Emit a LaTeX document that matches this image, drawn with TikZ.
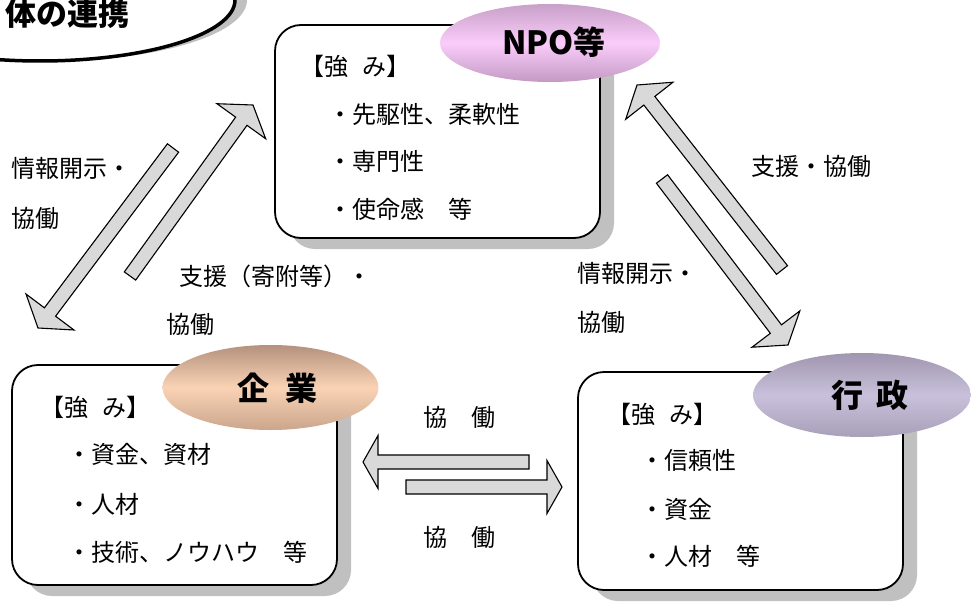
\documentclass[tikz,border=0pt]{standalone}
\usepackage{fontspec}
\setmainfont{Noto Sans CJK JP}
\usetikzlibrary{calc,shapes.geometric,shadows}
\definecolor{shadowgray}{HTML}{C0C0C0}
\definecolor{arrowgray}{HTML}{D9D9D9}
\definecolor{npoA}{HTML}{C8A0C8}
\definecolor{npoB}{HTML}{FACCFA}
\definecolor{npoC}{HTML}{C49AC4}
\definecolor{kigA}{HTML}{B4917D}
\definecolor{kigB}{HTML}{FAD3B5}
\definecolor{kigC}{HTML}{CBA68C}
\definecolor{gyoA}{HTML}{A096AF}
\definecolor{gyoB}{HTML}{C9C1DB}
\definecolor{gyoC}{HTML}{A89FB9}
\newcommand{\blockarr}[4]{%
  \path ($(#2)!#3!(#1)$) coordinate (ab);
  \draw[blockarrow] ($(#1)!7pt!90:(#2)$) -- ($(ab)!7pt!-90:(#1)$) -- ($(ab)!#4!-90:(#1)$) -- (#2) -- ($(ab)!#4!90:(#1)$) -- ($(ab)!7pt!90:(#1)$) -- ($(#1)!7pt!-90:(#2)$) -- cycle;}
\begin{document}
\begin{tikzpicture}[x=1pt,y=-1pt,
  box/.style={draw, line width=1.8pt, rounded corners=26pt, fill=white, inner sep=0pt,
    minimum width=325pt,
    drop shadow={shadow xshift=14pt, shadow yshift=-11pt, fill=shadowgray, opacity=1}},
  tag/.style={ellipse, inner sep=0pt},
  txt/.style={anchor=west, inner sep=0pt, font=\fontsize{24}{28}\selectfont, text height=20pt, text depth=3pt},
  lab/.style={inner sep=0pt, font=\bfseries\fontsize{32}{36}\selectfont},
  blockarrow/.style={draw=black, line width=1.1pt, fill=arrowgray, line join=miter}]
\useasboundingbox (0,0) rectangle (971,602);
\clip (0,0) rectangle (971,602);
% title bubble
\node[ellipse, draw, line width=3.5pt, fill=white, inner sep=0pt, minimum width=390pt, minimum height=122pt,
  drop shadow={shadow xshift=12pt, shadow yshift=0pt, fill=shadowgray, opacity=1}] (titleell) at (40,0) {};
\node[lab, font=\bfseries\fontsize{31}{34}\selectfont, anchor=east] (title) at (130,14) {体の連携};
% boxes
\node[box, minimum height=213pt] (npo) at (437.5,131.5) {};
\node[box, minimum height=220pt] (kig) at (174.5,475) {};
\node[box, minimum height=218pt] (gyo) at (740.5,481) {};
% ellipses
\node[tag, minimum width=220pt, minimum height=78pt, top color=npoA, bottom color=npoC, middle color=npoB] (npoell) at (550,43) {};
\node[tag, minimum width=216pt, minimum height=85pt, top color=kigA, bottom color=kigC, middle color=kigB] (kigell) at (270.5,387.5) {};
\node[tag, minimum width=218pt, minimum height=84pt, top color=gyoA, bottom color=gyoC, middle color=gyoB] (gyoell) at (862,395) {};
\node[lab] (npolab) at (554,42) {NPO等};
\node[lab] (kiglab) at (277.5,388) {企\hspace{17pt}業};
\node[lab] (gyolab) at (870,395) {行\hspace{13pt}政};
% box texts
\node[txt] (n0) at (300,67) {【強\hspace{14pt}み】};
\node[txt] (n1) at (328,115) {・先駆性、柔軟性};
\node[txt] (n2) at (328,162) {・専門性};
\node[txt] (n3) at (328,210) {・使命感　等};
\node[txt] (k0) at (40,408) {【強\hspace{14pt}み】};
\node[txt] (k1) at (67,455) {・資金、資材};
\node[txt] (k2) at (67,505) {・人材};
\node[txt] (k3) at (67,553) {・技術、ノウハウ　等};
\node[txt] (g0) at (607,415) {【強\hspace{14pt}み】};
\node[txt] (g1) at (640,461) {・信頼性};
\node[txt] (g2) at (640,510) {・資金};
\node[txt] (g3) at (640,557) {・人材　等};
% side labels
\node[txt] (l1) at (11,169) {情報開示・};
\node[txt] (l2) at (11,219) {協働};
\node[txt] (l3) at (179,277) {支援（寄附等）・};
\node[txt] (l4) at (166,325) {協働};
\node[txt] (r1) at (751,167) {支援・協働};
\node[txt] (r2) at (577,274) {情報開示・};
\node[txt] (r3) at (577,323) {協働};
\node[txt, anchor=center] (m1) at (459,418) {協　働};
\node[txt, anchor=center] (m2) at (459,538) {協　働};
% arrows
\coordinate (At) at (130,276); \coordinate (Ah) at (253,105);
\coordinate (Bt) at (173,148); \coordinate (Bh) at (38,328);
\coordinate (Ct) at (782,270); \coordinate (Ch) at (637,85);
\coordinate (Dt) at (662,179); \coordinate (Dh) at (788,345);
\coordinate (Et) at (529,462); \coordinate (Eh) at (363,462);
\coordinate (Ft) at (406,487); \coordinate (Fh) at (562,487);
\blockarr{At}{Ah}{20pt}{30pt}
\blockarr{Bt}{Bh}{20pt}{30pt}
\blockarr{Ct}{Ch}{20pt}{30pt}
\blockarr{Dt}{Dh}{20pt}{30pt}
\blockarr{Et}{Eh}{15pt}{26.5pt}
\blockarr{Ft}{Fh}{15pt}{26.5pt}
\end{tikzpicture}
\end{document}
